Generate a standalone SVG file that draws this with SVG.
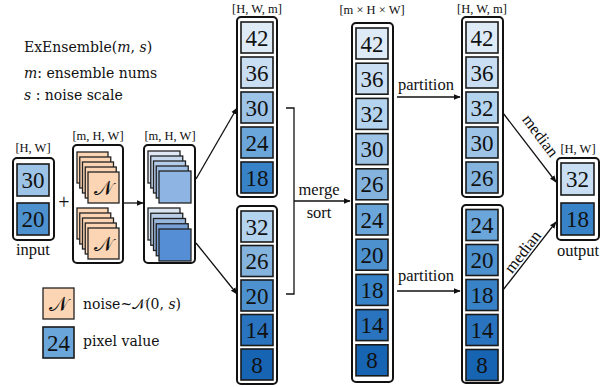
<svg xmlns="http://www.w3.org/2000/svg" width="605" height="387" viewBox="0 0 605 387">
<defs>
<marker id="ah" viewBox="0 0 10 10" refX="9" refY="5" markerWidth="7" markerHeight="7" markerUnits="userSpaceOnUse" orient="auto">
<path d="M0,1 L10,5 L0,9 Z" fill="#111"/>
</marker>
<style>
.box{fill:#fff;stroke:#111;stroke-width:2}
.cell{stroke:#1a1a1a;stroke-width:1.6}
.num{font-family:"Liberation Serif","Times New Roman",serif;font-size:23px;fill:#111;text-anchor:middle}
.dim{font-family:"Liberation Serif","Times New Roman",serif;font-size:12.5px;fill:#111;text-anchor:middle}
.lbl{font-family:"Liberation Serif","Times New Roman",serif;font-size:16.5px;fill:#111}
.cam{font-family:"DejaVu Serif",serif;font-size:14px;fill:#111}
.it{font-style:italic}
.scr{font-family:"DejaVu Serif","DejaVu Sans","Noto Sans",serif;font-size:20px;fill:#111;text-anchor:middle}
.line{stroke:#111;stroke-width:1.3;fill:none}
.noise{fill:#fcd5b4;stroke:#222;stroke-width:1.3}
.blu{stroke:#222;stroke-width:1.3}
.c42{fill:#deebf7}.c36{fill:#c9def2}.c32{fill:#b4d3ee}.c30{fill:#9dc3e6}.c26{fill:#84b4de}
.c24{fill:#6aa6da}.c20{fill:#4d91cf}.c18{fill:#3883c8}.c14{fill:#2a74bf}.c8{fill:#1764b3}
</style>
</defs>

<g id="title">
<text class="cam" x="24" y="52">ExEnsemble(<tspan class="it">m</tspan>, <tspan class="it">s</tspan>)</text>
<text class="cam" x="24" y="78"><tspan class="it">m</tspan>: ensemble nums</text>
<text class="cam" x="24" y="100"><tspan class="it">s</tspan> : noise scale</text>
</g>

<g id="input">
<text class="dim" x="33" y="152">[H, W]</text>
<rect class="box" x="13" y="158" width="41" height="82" rx="4"/>
<rect class="cell c30" x="17" y="164" width="32" height="32"/>
<text class="num" x="33" y="188">30</text>
<rect class="cell c20" x="17" y="203" width="32" height="32"/>
<text class="num" x="33" y="227">20</text>
<text class="lbl" x="33" y="255" text-anchor="middle">input</text>
</g>

<g id="plus">
<text x="64" y="209" font-family="Liberation Serif,serif" font-size="20" text-anchor="middle" fill="#111">+</text>
</g>

<g id="noise">
<text class="dim" x="98" y="140">[m, H, W]</text>
<rect class="box" x="73" y="145" width="50" height="118" rx="4"/>
<rect class="noise" x="77" y="152" width="31" height="31"/>
<rect class="noise" x="79.75" y="157" width="31" height="31"/>
<rect class="noise" x="82.5" y="162" width="31" height="31"/>
<rect class="noise" x="85.25" y="167" width="31" height="31"/>
<rect class="noise" x="88" y="172" width="31" height="31"/>
<text class="scr" x="103.5" y="195">𝒩</text>
<rect class="noise" x="77" y="208" width="31" height="31"/>
<rect class="noise" x="79.75" y="213" width="31" height="31"/>
<rect class="noise" x="82.5" y="218" width="31" height="31"/>
<rect class="noise" x="85.25" y="223" width="31" height="31"/>
<rect class="noise" x="88" y="228" width="31" height="31"/>
<text class="scr" x="103.5" y="251">𝒩</text>
</g>

<g id="noisy">
<text class="dim" x="170" y="140">[m, H, W]</text>
<rect class="box" x="144" y="145" width="51" height="118" rx="4"/>
<rect class="blu" x="148" y="151" width="32" height="32" fill="#dfe8f4"/>
<rect class="blu" x="150.75" y="156" width="32" height="32" fill="#c8d9ef"/>
<rect class="blu" x="153.5" y="161" width="32" height="32" fill="#b4cbea"/>
<rect class="blu" x="156.25" y="166" width="32" height="32" fill="#a0bfe6"/>
<rect class="blu" x="159" y="171" width="32" height="32" fill="#8db4e2"/>
<rect class="blu" x="148" y="208" width="32" height="32" fill="#dbe5f1"/>
<rect class="blu" x="150.75" y="213.25" width="32" height="32" fill="#b9cde6"/>
<rect class="blu" x="153.5" y="218.5" width="32" height="32" fill="#98b6dc"/>
<rect class="blu" x="156.25" y="223.75" width="32" height="32" fill="#779fd6"/>
<rect class="blu" x="159" y="229" width="32" height="32" fill="#558ed5"/>
</g>

<g id="col1top">
<text class="dim" x="257" y="13">[H, W, m]</text>
<rect class="box" x="237" y="17" width="40" height="180" rx="4"/>
<rect class="cell c42" x="241" y="22" width="32" height="31"/><text class="num" x="257" y="45.5">42</text>
<rect class="cell c36" x="241" y="57" width="32" height="31"/><text class="num" x="257" y="80.5">36</text>
<rect class="cell c30" x="241" y="92" width="32" height="31"/><text class="num" x="257" y="115.5">30</text>
<rect class="cell c24" x="241" y="127" width="32" height="31"/><text class="num" x="257" y="150.5">24</text>
<rect class="cell c18" x="241" y="162" width="32" height="31"/><text class="num" x="257" y="185.5">18</text>
</g>

<g id="col1bot">
<rect class="box" x="237" y="206" width="40" height="178" rx="4"/>
<rect class="cell c32" x="241" y="211" width="32" height="31"/><text class="num" x="257" y="234.5">32</text>
<rect class="cell c26" x="241" y="245.5" width="32" height="31"/><text class="num" x="257" y="269">26</text>
<rect class="cell c20" x="241" y="280" width="32" height="31"/><text class="num" x="257" y="303.5">20</text>
<rect class="cell c14" x="241" y="314.5" width="32" height="31"/><text class="num" x="257" y="338">14</text>
<rect class="cell c8" x="241" y="349" width="32" height="31"/><text class="num" x="257" y="372.5">8</text>
</g>

<g id="col2">
<text class="dim" x="372" y="14">[m × H × W]</text>
<rect class="box" x="352" y="23" width="41" height="359" rx="4"/>
<rect class="cell c42" x="356" y="28" width="32" height="31"/><text class="num" x="372" y="51.5">42</text>
<rect class="cell c36" x="356" y="63.2" width="32" height="31"/><text class="num" x="372" y="86.7">36</text>
<rect class="cell c32" x="356" y="98.4" width="32" height="31"/><text class="num" x="372" y="121.9">32</text>
<rect class="cell c30" x="356" y="133.6" width="32" height="31"/><text class="num" x="372" y="157.1">30</text>
<rect class="cell c26" x="356" y="168.8" width="32" height="31"/><text class="num" x="372" y="192.3">26</text>
<rect class="cell c24" x="356" y="204" width="32" height="31"/><text class="num" x="372" y="227.5">24</text>
<rect class="cell c20" x="356" y="239.2" width="32" height="31"/><text class="num" x="372" y="262.7">20</text>
<rect class="cell c18" x="356" y="274.4" width="32" height="31"/><text class="num" x="372" y="297.9">18</text>
<rect class="cell c14" x="356" y="309.6" width="32" height="31"/><text class="num" x="372" y="333.1">14</text>
<rect class="cell c8" x="356" y="344.8" width="32" height="31"/><text class="num" x="372" y="368.3">8</text>
</g>

<g id="col3top">
<text class="dim" x="482" y="13">[H, W, m]</text>
<rect class="box" x="462" y="17" width="41" height="180" rx="4"/>
<rect class="cell c42" x="466" y="22" width="32" height="31"/><text class="num" x="482" y="45.5">42</text>
<rect class="cell c36" x="466" y="57" width="32" height="31"/><text class="num" x="482" y="80.5">36</text>
<rect class="cell c32" x="466" y="92" width="32" height="31"/><text class="num" x="482" y="115.5">32</text>
<rect class="cell c30" x="466" y="127" width="32" height="31"/><text class="num" x="482" y="150.5">30</text>
<rect class="cell c26" x="466" y="162" width="32" height="31"/><text class="num" x="482" y="185.5">26</text>
</g>

<g id="col3bot">
<rect class="box" x="462" y="205" width="41" height="178" rx="4"/>
<rect class="cell c24" x="466" y="209.5" width="32" height="31"/><text class="num" x="482" y="233">24</text>
<rect class="cell c20" x="466" y="244.5" width="32" height="31"/><text class="num" x="482" y="268">20</text>
<rect class="cell c18" x="466" y="279.5" width="32" height="31"/><text class="num" x="482" y="303">18</text>
<rect class="cell c14" x="466" y="314.5" width="32" height="31"/><text class="num" x="482" y="338">14</text>
<rect class="cell c8" x="466" y="349.5" width="32" height="31"/><text class="num" x="482" y="373">8</text>
</g>

<g id="output">
<text class="dim" x="578" y="153">[H, W]</text>
<rect class="box" x="557" y="158" width="42" height="82" rx="4"/>
<rect class="cell c36" x="561" y="163" width="33" height="32"/>
<text class="num" x="577.5" y="187">32</text>
<rect class="cell c18" x="561" y="203" width="33" height="32"/>
<text class="num" x="577.5" y="227">18</text>
<text class="lbl" x="578" y="256" text-anchor="middle">output</text>
</g>

<g id="legend">
<rect class="noise" x="43" y="288" width="31" height="31"/>
<text class="scr" x="58.5" y="311">𝒩</text>
<text class="cam" x="83" y="309">noise~<tspan font-family="DejaVu Serif,Noto Sans,serif">𝒩</tspan>(0, <tspan class="it">s</tspan>)</text>
<rect class="cell c24" x="43" y="327" width="31" height="31"/>
<text class="num" x="58.5" y="350.5">24</text>
<text class="cam" x="83" y="346">pixel value</text>
</g>

<g id="connectors">
<line class="line" x1="123" y1="203" x2="143" y2="203" marker-end="url(#ah)"/>
<line class="line" x1="196" y1="179" x2="237" y2="108" marker-end="url(#ah)"/>
<line class="line" x1="196" y1="243" x2="237" y2="294" marker-end="url(#ah)"/>
<path class="line" d="M286,108 H294 V294 H286"/>
<line class="line" x1="294" y1="201" x2="350" y2="201" marker-end="url(#ah)"/>
<line class="line" x1="397" y1="97" x2="460" y2="97" marker-end="url(#ah)"/>
<line class="line" x1="397" y1="291" x2="460" y2="291" marker-end="url(#ah)"/>
<line class="line" x1="503" y1="113" x2="556" y2="182" marker-end="url(#ah)"/>
<line class="line" x1="503" y1="290" x2="556" y2="222" marker-end="url(#ah)"/>
<text class="lbl" x="319" y="195" text-anchor="middle">merge</text>
<text class="lbl" x="319" y="218" text-anchor="middle">sort</text>
<text class="lbl" x="426" y="90" text-anchor="middle">partition</text>
<text class="lbl" x="426" y="281" text-anchor="middle">partition</text>
<text class="lbl" text-anchor="middle" transform="translate(536,139) rotate(53)">median</text>
<text class="lbl" text-anchor="middle" transform="translate(527,255) rotate(-52)">median</text>
</g>
</svg>
